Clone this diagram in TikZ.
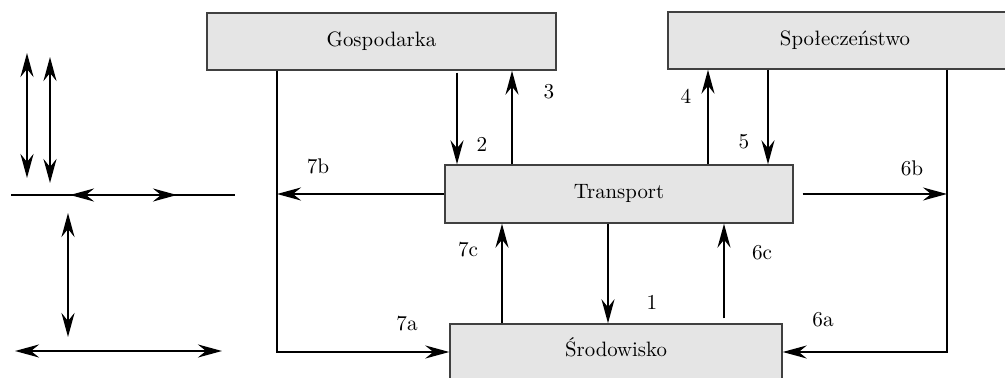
\documentclass[tikz,border=0pt]{standalone}
\usetikzlibrary{arrows.meta}
\begin{document}
\begin{tikzpicture}[x=0.5pt,y=-0.5pt,
  box/.style={draw=black!75, line width=0.7pt, fill=black!10, inner sep=0pt,
    text height=7pt, text depth=2pt, font=\fontsize{10.4}{12}\selectfont},
  lbl/.style={inner sep=0pt, font=\fontsize{10.6}{12}\selectfont},
  conn/.style={line width=1.1pt},
  tip/.style={Stealth[length=12pt,width=6.5pt,inset=4pt]},
  arr/.style={conn, -{Stealth[length=12pt,width=6.5pt,inset=4pt]}},
  dbl/.style={conn, {Stealth[length=12pt,width=6.5pt,inset=4pt]}-{Stealth[length=12pt,width=6.5pt,inset=4pt]}}]
  \path[use as bounding box, clip] (0,0) rectangle (1005,378);

  % main blocks
  \node[box, minimum width=174.5pt, minimum height=28.5pt] (g) at (381.5,41.5) {Gospodarka};
  \node[box, minimum width=177pt, minimum height=28.5pt] (p) at (845,40.5) {Społeczeństwo};
  \node[box, minimum width=174pt, minimum height=29pt] (t) at (619,194) {Transport};
  \node[box, minimum width=166pt, minimum height=28pt] (s) at (616,352) {Środowisko};

  % columns of the vertical connectors
  \coordinate (lx) at (277,0);
  \coordinate (rx) at (947,0);
  \coordinate (c2) at (457,0);
  \coordinate (c3) at (512,0);
  \coordinate (c4) at (708,0);
  \coordinate (c5) at (768,0);
  \coordinate (c7c) at (502,0);
  \coordinate (c1) at (608,0);
  \coordinate (c6c) at (724,0);

  % connectors
  \draw[arr] (lx |- g.south) |- (s.west);
  \draw[arr] (t.west) -- (lx |- t.west);
  \draw[arr, shorten <=1pt] (c2 |- g.south) -- (c2 |- t.north);
  \draw[arr] (c3 |- t.north) -- (c3 |- g.south);
  \draw[arr] (c4 |- t.north) -- (c4 |- p.south);
  \draw[arr] (c5 |- p.south) -- (c5 |- t.north);
  \draw[arr, shorten <=4.5pt] (t.east) -- (rx |- t.east);
  \draw[arr] (rx |- p.south) |- (s.east);
  \draw[arr] (c7c |- s.north) -- (c7c |- t.south);
  \draw[arr] (c1 |- t.south) -- (c1 |- s.north);
  \draw[arr, shorten <=2.5pt] (c6c |- s.north) -- (c6c |- t.south);

  % connector labels
  \node[lbl] (l3) at (549,92) {3};
  \node[lbl] (l2) at (482,144) {2};
  \node[lbl] (l7b) at (318,166) {7b};
  \node[lbl] (l4) at (686,96) {4};
  \node[lbl] (l5) at (744,142) {5};
  \node[lbl] (l6b) at (912,168) {6b};
  \node[lbl] (l7c) at (468,250) {7c};
  \node[lbl] (l7a) at (407,324) {7a};
  \node[lbl] (l1) at (652,302) {1};
  \node[lbl] (l6c) at (762,253) {6c};
  \node[lbl] (l6a) at (823,320) {6a};

  % key of arrow kinds
  \draw[dbl] (27,53) -- (27,178);
  \draw[dbl] (50,57) -- (50,183);
  \draw[conn] (11,195) -- (235,195);
  \draw[dbl] (70,195) -- (177,195);
  \draw[dbl] (68,213) -- (68,337);
  \draw[dbl] (15,351) -- (222,351);
\end{tikzpicture}
\end{document}
